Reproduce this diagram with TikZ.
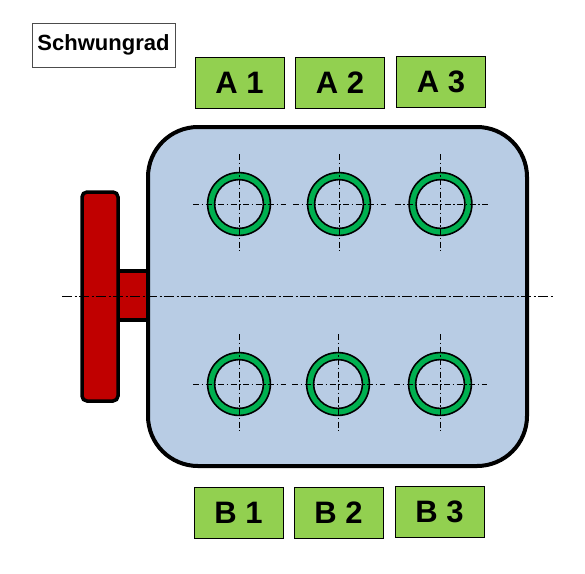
\documentclass[tikz,border=0pt]{standalone}
\usepackage{fontspec}
\setmainfont{Liberation Sans}
\definecolor{blockblue}{HTML}{B8CCE4}
\definecolor{wheelred}{HTML}{C00000}
\definecolor{ringgreen}{HTML}{00B050}
\definecolor{labelgreen}{HTML}{92D050}
\tikzset{
  blockbody/.style={draw=black,line width=4pt,fill=blockblue,rounded corners=50pt},
  wheelpart/.style={draw=black,line width=3.5pt,fill=wheelred},
  ringfill/.style={draw=ringgreen,line width=6.4pt,fill=none},
  ringedge/.style={draw=black,line width=1.6pt,fill=none},
  axisline/.style={draw=black,line width=1pt,dash pattern=on 9.5pt off 3pt on 2pt off 2.5pt},
  crossline/.style={draw=black,line width=0.8pt,dash pattern=on 6pt off 2.5pt on 1.5pt off 2.5pt},
  cyl/.style={draw=black,line width=1pt,fill=labelgreen,minimum width=89pt,minimum height=51pt,inner sep=0pt,font=\fontsize{31}{31}\selectfont\bfseries},
  titlebox/.style={draw=black!70,line width=1pt,fill=white,minimum width=143pt,minimum height=44pt,inner sep=0pt,font=\fontsize{22}{22}\selectfont\bfseries},
}
\newcommand{\cylbore}[3]{%
  \coordinate (#1) at (#2,#3);
  \draw[ringfill] (#1) circle (28pt);
  \draw[ringedge] (#1) circle (31.4pt);
  \draw[ringedge] (#1) circle (24.4pt);
  \coordinate (#1n) at (#2,#3-50);
  \coordinate (#1s) at (#2,#3+47);
  \coordinate (#1w) at (#2-46,#3);
  \coordinate (#1e) at (#2+47,#3);
  \draw[crossline] (#1n) -- (#1s);
  \draw[crossline] (#1w) -- (#1e);
}
\newcommand{\lift}[2]{\raisebox{#1}{#2}}
\begin{document}
\begin{tikzpicture}[x=1pt,y=-1pt]
\useasboundingbox (0,0) rectangle (585,573);
\fill[white] (0,0) rectangle (585,573);
\draw[wheelpart] (118,271) rectangle (148,320);
\draw[wheelpart,rounded corners=5pt] (82,192) rectangle (118,401);
\draw[blockbody] (148,127) rectangle (527,466);
\cylbore{ca}{239}{204}
\cylbore{cb}{339}{204}
\cylbore{cc}{440.5}{204}
\cylbore{cd}{239}{384}
\cylbore{ce}{338}{384}
\cylbore{cf}{440}{384}
\coordinate (axisw) at (62,296);
\coordinate (axise) at (553,296);
\draw[axisline] (axisw) -- (axise);
\node[titlebox] (flywheel) at (103.5,45) {\lift{1pt}{Schwungrad}};
\node[cyl] (a1) at (239.5,82.5) {\lift{-3pt}{A 1}};
\node[cyl] (a2) at (340,82.5) {\lift{-3pt}{A 2}};
\node[cyl] (a3) at (441,81.5) {\lift{-4pt}{A 3}};
\node[cyl] (b1) at (238.5,512.5) {\lift{-1pt}{B 1}};
\node[cyl] (b2) at (338.5,512.5) {\lift{-1pt}{B 2}};
\node[cyl] (b3) at (439.5,511.5) {\lift{-2pt}{B 3}};
\end{tikzpicture}
\end{document}
